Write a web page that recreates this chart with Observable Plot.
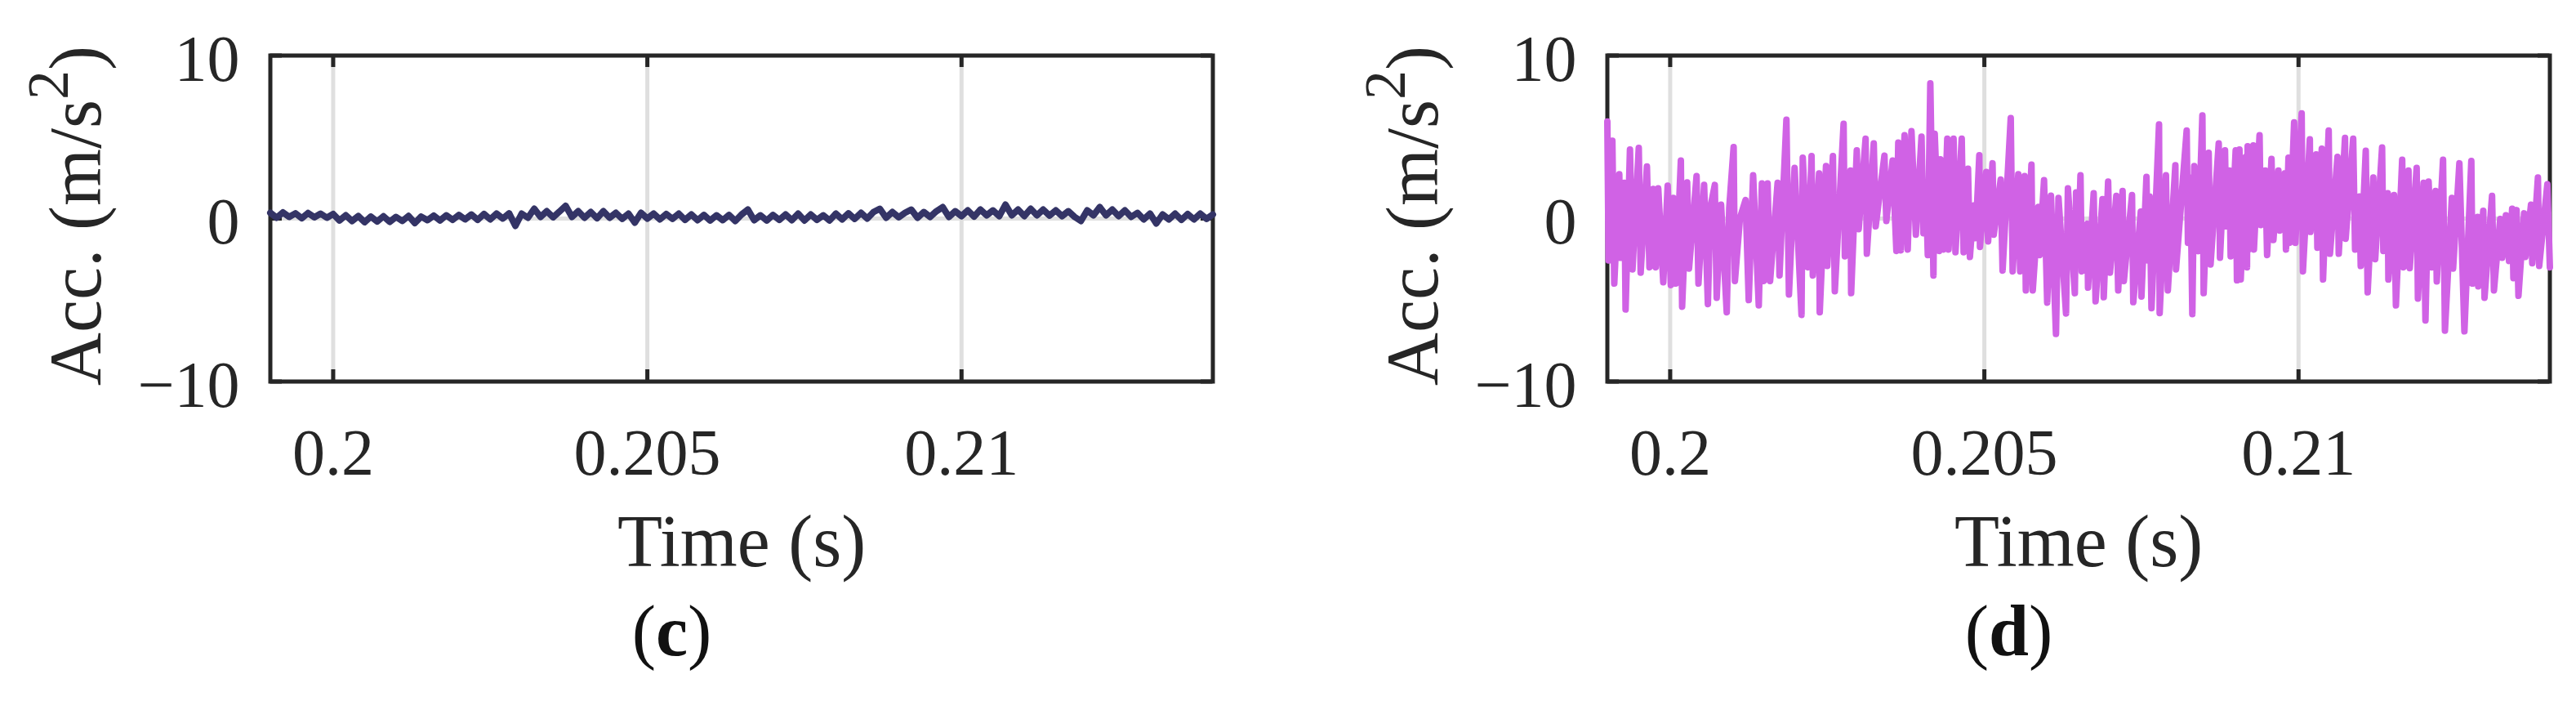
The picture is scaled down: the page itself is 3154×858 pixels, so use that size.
<!DOCTYPE html>
<html>
<head>
<meta charset="utf-8">
<script src="https://cdn.jsdelivr.net/npm/d3@7"></script>
<script src="https://cdn.jsdelivr.net/npm/@observablehq/plot@0.6"></script>
<style>
  html, body { margin: 0; padding: 0; background: #ffffff; }
  #wrap { display: flex; width: 3154px; height: 858px; background: #ffffff; }
</style>
</head>
<body>
<div id="wrap"></div>
<script>
// ---- Data (time in ms, acceleration in m/s^2) ----
const xTicks = [0.2, 0.205, 0.21];
const yTicks = [-10, 0, 10];

const timeC = [199.0,199.1,199.2,199.3,199.4,199.5,199.6,199.7,199.8,199.9,
200.0,200.1,200.2,200.3,200.4,200.5,200.6,200.7,200.8,200.9,
201.0,201.1,201.2,201.3,201.4,201.5,201.6,201.7,201.8,201.9,
202.0,202.1,202.2,202.3,202.4,202.5,202.6,202.7,202.8,202.9,
203.0,203.1,203.2,203.3,203.4,203.5,203.6,203.7,203.8,203.9,
204.0,204.1,204.2,204.3,204.4,204.5,204.6,204.7,204.8,204.9,
205.0,205.1,205.2,205.3,205.4,205.5,205.6,205.7,205.8,205.9,
206.0,206.1,206.2,206.3,206.4,206.5,206.6,206.7,206.8,206.9,
207.0,207.1,207.2,207.3,207.4,207.5,207.6,207.7,207.8,207.9,
208.0,208.1,208.2,208.3,208.4,208.5,208.6,208.7,208.8,208.9,
209.0,209.1,209.2,209.3,209.4,209.5,209.6,209.7,209.8,209.9,
210.0,210.1,210.2,210.3,210.4,210.5,210.6,210.7,210.8,210.9,
211.0,211.1,211.2,211.3,211.4,211.5,211.6,211.7,211.8,211.9,
212.0,212.1,212.2,212.3,212.4,212.5,212.6,212.7,212.8,212.9,
213.0,213.1,213.2,213.3,213.4,213.5,213.6,213.7,213.8,213.9,
214.0];
const accC = [0.35,0.05,0.38,0.10,0.32,0.02,0.34,0.08,0.30,0.05,
0.28,-0.12,0.20,-0.15,0.15,-0.22,0.12,-0.18,0.14,-0.20,
0.10,-0.15,0.16,-0.28,0.12,-0.10,0.18,-0.12,0.20,-0.08,
0.22,-0.05,0.25,-0.08,0.28,-0.05,0.30,0.00,0.32,-0.45,
0.30,0.05,0.60,0.10,0.45,0.08,0.42,0.78,0.10,0.45,
0.05,0.40,0.02,0.45,0.05,0.35,-0.02,0.30,-0.25,0.35,
0.00,0.30,-0.05,0.28,-0.02,0.30,-0.08,0.25,-0.10,0.22,
-0.12,0.20,-0.10,0.22,-0.15,0.25,0.55,-0.10,0.20,-0.12,
0.22,-0.08,0.25,-0.10,0.30,-0.12,0.25,-0.08,0.20,-0.12,
0.30,-0.05,0.32,-0.02,0.35,0.00,0.40,0.60,0.05,0.40,
0.08,0.35,0.55,0.05,0.40,0.10,0.45,0.70,0.10,0.45,
0.15,0.50,0.12,0.55,0.20,0.50,0.15,0.85,0.20,0.55,
0.15,0.60,0.20,0.55,0.18,0.50,0.15,0.45,0.10,-0.15,
0.50,0.20,0.70,0.20,0.55,0.15,0.50,0.10,0.35,-0.05,
0.30,-0.30,0.25,-0.05,0.30,-0.08,0.28,-0.05,0.30,-0.02,
0.25];

const timeD = [199.00,199.02,199.08,199.11,199.19,199.21,199.27,199.29,199.36,199.40,
199.50,199.53,199.63,199.67,199.73,199.77,199.81,199.89,199.96,200.01,
200.05,200.09,200.17,200.19,200.27,200.30,200.42,200.45,200.54,200.60,
200.64,200.71,200.74,200.81,200.90,200.94,201.01,201.03,201.11,201.20,
201.25,201.32,201.41,201.46,201.49,201.55,201.59,201.71,201.74,201.85,
201.89,201.98,202.09,202.11,202.19,202.25,202.27,202.37,202.38,202.48,
202.50,202.59,202.62,202.76,202.78,202.87,202.88,202.97,203.00,203.11,
203.13,203.24,203.27,203.41,203.44,203.54,203.60,203.63,203.67,203.73,
203.78,203.84,203.91,204.00,204.03,204.07,204.10,204.14,204.19,204.21,
204.28,204.30,204.35,204.41,204.43,204.51,204.54,204.64,204.67,204.74,
204.77,204.83,204.86,204.92,204.93,205.03,205.06,205.13,205.15,205.26,
205.29,205.42,205.45,205.54,205.57,205.64,205.66,205.75,205.77,205.86,
205.88,205.95,206.00,206.06,206.14,206.18,206.30,206.33,206.44,206.46,
206.49,206.53,206.55,206.64,206.65,206.74,206.77,206.88,206.90,206.97,
207.00,207.10,207.13,207.20,207.22,207.35,207.37,207.49,207.50,207.58,
207.60,207.63,207.66,207.78,207.79,207.89,207.92,208.04,208.05,208.22,
208.24,208.28,208.31,208.34,208.40,208.47,208.49,208.57,208.60,208.73,
208.75,208.83,208.85,208.90,208.92,209.00,209.02,209.06,209.08,209.16,
209.18,209.19,209.21,209.28,209.29,209.38,209.40,209.47,209.50,209.57,
209.60,209.68,209.70,209.78,209.80,209.84,209.86,209.93,209.95,210.05,
210.07,210.18,210.19,210.28,210.30,210.37,210.39,210.48,210.50,210.62,
210.64,210.74,210.75,210.87,210.90,210.97,210.99,211.07,211.10,211.19,
211.22,211.33,211.35,211.42,211.43,211.52,211.55,211.65,211.67,211.75,
211.77,211.88,211.90,211.99,212.02,212.07,212.12,212.18,212.20,212.30,
212.33,212.44,212.46,212.56,212.64,212.75,212.77,212.85,212.86,212.94,
212.96,213.08,213.11,213.21,213.24,213.30,213.35,213.40,213.42,213.47,
213.50,213.59,213.61,213.70,213.72,213.81,213.83,213.96,214.00];
const accD = [5.95,-2.57,4.78,-3.99,2.72,-2.41,2.19,-5.58,4.23,-3.12,
4.33,-3.32,3.19,-2.99,1.82,-2.99,1.85,-3.91,2.02,-4.08,
1.27,-3.99,3.56,-5.41,2.22,-3.07,2.61,-3.99,2.07,-5.25,
0.69,2.06,-4.86,0.85,-5.75,0.65,4.39,-3.83,0.02,1.14,
-5.00,2.66,-5.33,2.16,-3.83,2.16,-3.83,2.19,-3.49,6.07,
-4.66,3.11,-5.91,3.74,-2.99,3.83,-3.49,2.77,-5.75,3.22,
-2.91,3.83,-4.46,5.81,-2.32,2.94,-4.58,4.19,-0.65,4.90,
-2.16,4.61,-0.48,3.86,-0.15,3.56,-1.99,4.66,-1.95,5.11,
-1.90,5.36,-0.99,5.03,-0.90,2.00,-2.24,8.29,-3.49,5.20,
-1.99,3.64,-1.90,4.90,-1.90,4.90,-2.07,4.90,-2.07,3.06,
-2.36,0.80,-1.20,3.89,-1.74,2.86,-1.40,3.39,-0.99,2.39,
-3.19,6.17,-3.24,2.72,-3.24,2.61,-4.41,3.31,-4.41,0.72,
-2.24,2.36,-5.16,1.40,-7.08,1.27,-5.83,1.85,-4.58,1.60,
-2.60,2.66,-3.24,-0.32,-4.24,1.55,-5.08,1.19,-4.83,2.27,
-3.32,1.39,-4.41,1.69,-3.83,1.44,-5.13,0.43,-4.79,2.56,
-2.57,1.35,-5.50,5.78,-5.80,2.66,-4.41,3.27,-3.12,5.40,
-1.49,2.50,-5.86,3.22,-2.00,6.33,-4.58,4.03,-2.82,4.61,
-2.41,4.19,-0.48,2.94,-2.32,4.19,-3.79,4.23,-3.74,3.78,
-2.99,4.44,-1.90,4.49,-1.90,5.11,-0.40,2.94,-2.24,3.66,
-1.32,2.94,-0.74,2.77,-1.90,3.73,-1.49,5.90,-1.49,6.45,
-3.24,4.86,-0.82,3.94,-1.79,4.28,-3.74,5.40,-2.16,3.78,
-2.16,4.95,-1.24,4.90,-1.90,1.35,-2.91,4.16,-4.53,2.52,
-2.49,4.36,-1.99,1.55,-3.74,1.44,-5.33,3.61,-2.99,2.94,
-3.04,3.11,-4.91,2.19,-6.25,2.27,-3.00,1.69,-3.86,3.61,
-6.88,1.27,-3.07,3.39,-6.92,3.53,-3.99,0.10,-4.16,0.48,
-4.86,1.39,-4.41,-0.02,-2.41,0.20,-2.60,0.60,-3.66,0.52,
-4.74,0.32,-2.36,0.85,-2.74,2.52,-2.91,2.10,-2.99];

const colorC = "#343466";
const colorD = "#d062e5";

// ---- Styling ----
const FONT = "'Liberation Serif', 'Times New Roman', serif";
const INK = "#262626";
const GRID = "#dfdfdf";
const W = 1577, H = 858;
const MT = 67.5, MB = 391.5;
const TICK = 14.5;
const fmt = d3.format("");

function panel(times, acc, color, letter, ml, mr) {
  const data = times.map((t, i) => ({t: t / 1000, a: acc[i]}));
  const pw = W - ml - mr, ph = H - MT - MB;
  const svg = Plot.plot({
    width: W, height: H,
    marginLeft: ml, marginRight: mr, marginTop: MT, marginBottom: MB,
    x: {domain: [0.199, 0.214]},
    y: {domain: [-10, 10]},
    style: {fontFamily: FONT, color: INK, background: "#ffffff", overflow: "visible"},
    marks: [
      Plot.gridX(xTicks, {stroke: GRID, strokeOpacity: 1, strokeWidth: 5}),
      Plot.gridY(yTicks, {stroke: GRID, strokeOpacity: 1, strokeWidth: 5}),
      Plot.tickX(xTicks, {stroke: INK, strokeWidth: 5, insetBottom: ph - TICK}),
      Plot.tickX(xTicks, {stroke: INK, strokeWidth: 5, insetTop: ph - TICK}),
      Plot.tickY(yTicks, {stroke: INK, strokeWidth: 5, insetRight: pw - TICK}),
      Plot.tickY(yTicks, {stroke: INK, strokeWidth: 5, insetLeft: pw - TICK}),
      Plot.frame({stroke: INK, strokeWidth: 5}),
      Plot.axisX(xTicks, {tickSize: 0, tickPadding: 56.7, fontSize: 80, label: null, fill: INK, tickFormat: fmt}),
      Plot.axisY(yTicks, {tickSize: 0, tickPadding: 37.5, fontSize: 80, label: null, dy: 5, fill: INK, tickFormat: fmt}),
      Plot.text(["Time (s)"], {frameAnchor: "bottom", dy: 161.6, lineAnchor: "top", fontSize: 90, fill: INK}),
      Plot.line(data, {x: "t", y: "a", stroke: color, strokeWidth: 8, strokeLinejoin: "round", strokeLinecap: "round"})
    ]
  });
  const s = d3.select(svg);
  const yl = s.append("text")
    .attr("transform", `translate(${ml - 208},264) rotate(-90)`)
    .attr("text-anchor", "middle")
    .attr("font-family", FONT)
    .attr("font-size", 90)
    .attr("fill", INK);
  yl.append("tspan").text("Acc. (m/s");
  yl.append("tspan").attr("font-size", 72).attr("dy", -40).text("2");
  yl.append("tspan").attr("dy", 40).text(")");
  const cap = s.append("text")
    .attr("x", ml + pw / 2 - 85)
    .attr("y", 802)
    .attr("text-anchor", "middle")
    .attr("font-family", FONT)
    .attr("font-size", 88)
    .attr("fill", "#111111");
  cap.append("tspan").text("(");
  cap.append("tspan").attr("font-weight", "bold").text(letter);
  cap.append("tspan").text(")");
  return svg;
}

const wrap = document.getElementById("wrap");
wrap.appendChild(panel(timeC, accC, colorC, "c", 330.5, 92.5));
wrap.appendChild(panel(timeD, accD, colorD, "d", 390.5, 32.5));
</script>
</body>
</html>
